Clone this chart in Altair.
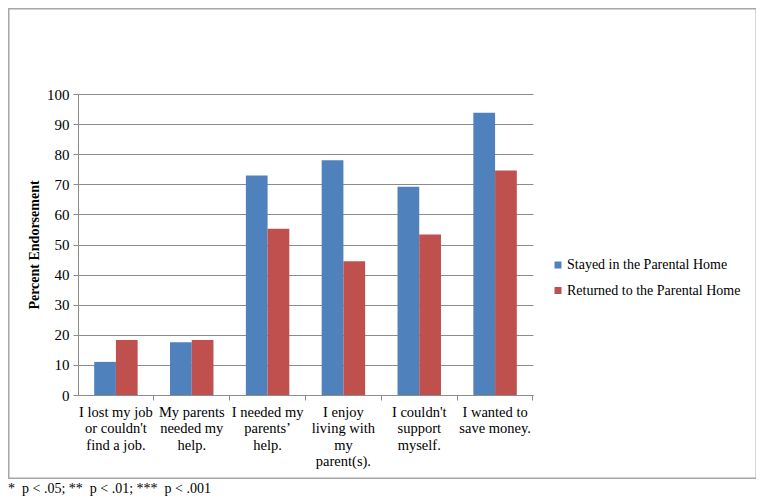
import altair as alt
import pandas as pd

categories = [
    "I lost my job|or couldn't|find a job.",
    "My parents|needed my|help.",
    "I needed my|parents’|help.",
    "I enjoy|living with|my|parent(s).",
    "I couldn't|support|myself.",
    "I wanted to|save money.",
]
series = ["Stayed in the Parental Home", "Returned to the Parental Home"]
stayed = [11.0, 17.5, 72.9, 78.0, 69.2, 93.8]
returned = [18.3, 18.3, 55.2, 44.4, 53.3, 74.6]
y_ticks = [0, 10, 20, 30, 40, 50, 60, 70, 80, 90, 100]
footnote = "*\u00a0\u00a0p < .05; **\u00a0\u00a0p < .01; ***\u00a0\u00a0p < .001"

rows = []
for c, s, r in zip(categories, stayed, returned):
    rows.append({"category": c, "series": series[0], "value": s})
    rows.append({"category": c, "series": series[1], "value": r})
df = pd.DataFrame(rows)

FONT = "'Liberation Serif', 'Times New Roman', Times, serif"
GRID = "#8c8c8c"
W, H = 455, 301

x_scale = alt.Scale(domain=categories, paddingInner=0.427, paddingOuter=0.2135)

bars = alt.Chart(df).mark_bar().encode(
    x=alt.X(
        "category:N",
        sort=categories,
        scale=x_scale,
        axis=alt.Axis(
            title=None,
            orient="bottom",
            labelExpr="split(datum.label, '|')",
            labelAngle=0,
            labelFont=FONT,
            labelFontSize=14.5,
            labelColor="black",
            labelLineHeight=16.5,
            labelPadding=10,
            labelLimit=300,
            ticks=False,
            tickSize=0,
            domain=False,
            grid=False,
        ),
    ),
    xOffset=alt.XOffset(
        "series:N",
        sort=series,
        scale=alt.Scale(domain=series, paddingInner=0, paddingOuter=0),
    ),
    y=alt.Y(
        "value:Q",
        scale=alt.Scale(domain=[0, 100], nice=False),
        axis=alt.Axis(
            title="Percent Endorsement",
            values=y_ticks,
            labelFont=FONT,
            labelFontSize=15,
            labelColor="black",
            labelPadding=4,
            tickSize=5,
            tickColor=GRID,
            domainColor=GRID,
            gridColor=GRID,
            grid=True,
            titleFont=FONT,
            titleFontSize=14,
            titleFontWeight="bold",
            titleColor="black",
            titlePadding=5,
        ),
    ),
    color=alt.Color(
        "series:N",
        sort=series,
        scale=alt.Scale(domain=series, range=["#4F81BD", "#C0504D"]),
        legend=alt.Legend(
            title=None,
            orient="none",
            legendX=473,
            legendY=164,
            symbolType="square",
            symbolSize=49,
            symbolStrokeWidth=0,
            labelFont=FONT,
            labelFontSize=14,
            labelColor="black",
            labelOffset=2,
            rowPadding=11.5,
            padding=0,
            labelLimit=300,
        ),
    ),
)

ticks_layer = alt.Chart(df).mark_point(opacity=0).encode(
    x=alt.X(
        "category:N",
        sort=categories,
        scale=x_scale,
        axis=alt.Axis(
            title=None,
            orient="bottom",
            labels=False,
            ticks=True,
            tickSize=5,
            tickColor=GRID,
            domain=True,
            domainColor=GRID,
            grid=False,
            bandPosition=1.3726,
        ),
    ),
    y=alt.value(0),
)

frame = alt.Chart(pd.DataFrame({"k": [0]})).mark_rect(
    filled=False, stroke="#a6a6a6", strokeWidth=1.5
).encode(
    x=alt.value(-69.25), x2=alt.value(678.3), y=alt.value(-85.25), y2=alt.value(384.3)
)

note = alt.Chart(pd.DataFrame({"t": [footnote]})).mark_text(
    align="left", baseline="alphabetic", font=FONT, fontSize=14, color="black"
).encode(x=alt.value(-70), y=alt.value(399), text="t:N")

chart = (
    alt.layer(frame, bars, ticks_layer, note)
    .resolve_axis(x="independent")
    .properties(
        width=W,
        height=H,
        autosize=alt.AutoSizeParams(type="none"),
        padding={"left": 70, "top": 86, "right": 223, "bottom": 101},
        background="white",
    )
    .configure_view(strokeWidth=0)
)

chart.save("out.html", embed_options={"renderer": "svg", "actions": False})
